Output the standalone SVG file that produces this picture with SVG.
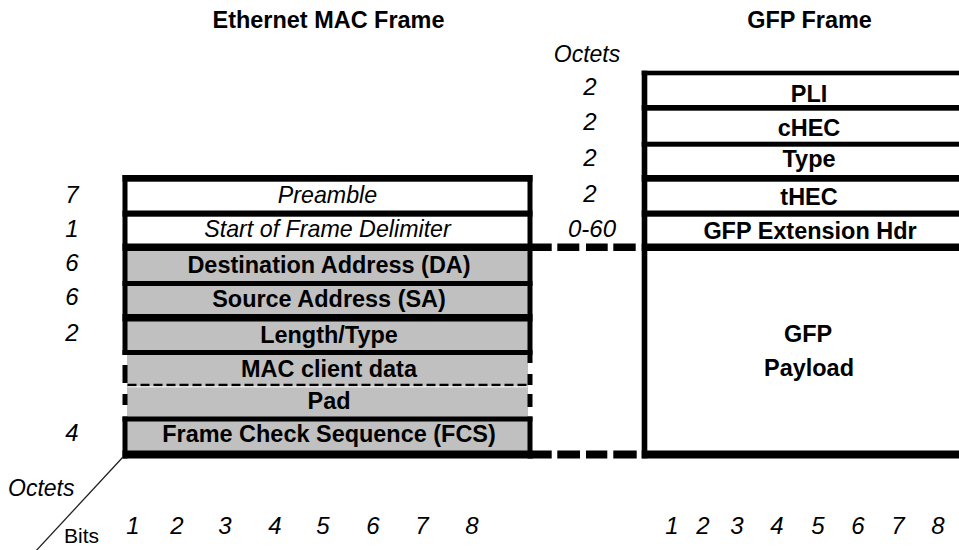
<svg xmlns="http://www.w3.org/2000/svg" width="959" height="550" viewBox="0 0 959 550">
<style>
text{font-family:"Liberation Sans",Arial,sans-serif;fill:#000}
.b{font-weight:bold;font-size:23px;text-anchor:middle}
.i{font-style:italic;font-size:23px;text-anchor:middle}
.n{font-style:italic;font-size:24px;text-anchor:middle}
.k{fill:#000}
.g{fill:#c0c0c0}
</style>
<rect width="959" height="550" fill="#fff"/>

<g id="titles">
<text class="b" transform="translate(328.5,27.5) scale(1.02,1)">Ethernet MAC Frame</text>
<text class="b" transform="translate(809.5,28) scale(1.02,1)">GFP Frame</text>
<text class="i" x="587" y="62">Octets</text>
</g>

<g id="ethernet-frame">
<rect class="g" x="127" y="250" width="401" height="201"/>
<rect class="k" x="122.5" y="175" width="410" height="6.7"/>
<rect class="k" x="122.5" y="210.5" width="410" height="6.2"/>
<rect class="k" x="122.5" y="243.5" width="410" height="7.5"/>
<rect class="k" x="122.5" y="281" width="410" height="5"/>
<rect class="k" x="122.5" y="314" width="410" height="7.5"/>
<rect class="k" x="122.5" y="350" width="410" height="5"/>
<rect class="k" x="122.5" y="416.5" width="410" height="5"/>
<rect class="k" x="122.5" y="450.5" width="410" height="8"/>
<rect class="k" x="122.5" y="175" width="5" height="180"/>
<rect class="k" x="122.5" y="365" width="5" height="18"/>
<rect class="k" x="122.5" y="394" width="5" height="11"/>
<rect class="k" x="122.5" y="416.5" width="5" height="42"/>
<rect class="k" x="527.5" y="175" width="5" height="188"/>
<rect class="k" x="527.5" y="374" width="5" height="11"/>
<rect class="k" x="527.5" y="394" width="5" height="13"/>
<rect class="k" x="527.5" y="416.5" width="5" height="42"/>
<line x1="127.5" y1="385" x2="527.5" y2="385" stroke="#000" stroke-width="2.5" stroke-dasharray="9 4"/>
<line x1="127.5" y1="386.8" x2="527.5" y2="386.8" stroke="#fff" stroke-width="1"/>
</g>

<g id="eth-preamble">
<text class="i" transform="translate(327.5,203) scale(1.01,1)">Preamble</text>
<text class="n" x="72" y="203">7</text>
</g>
<g id="eth-sfd">
<text class="i" transform="translate(327.5,237) scale(1.01,1)">Start of Frame Delimiter</text>
<text class="n" x="72" y="237">1</text>
</g>
<g id="eth-da">
<text class="b" transform="translate(329,273) scale(1.02,1)">Destination Address (DA)</text>
<text class="n" x="72" y="271">6</text>
</g>
<g id="eth-sa">
<text class="b" transform="translate(329,307) scale(1.02,1)">Source Address (SA)</text>
<text class="n" x="72" y="305">6</text>
</g>
<g id="eth-lt">
<text class="b" transform="translate(329,343) scale(1.02,1)">Length/Type</text>
<text class="n" x="72" y="341">2</text>
</g>
<g id="eth-mac">
<text class="b" transform="translate(329,377) scale(1.02,1)">MAC client data</text>
</g>
<g id="eth-pad">
<text class="b" transform="translate(329,409) scale(1.02,1)">Pad</text>
</g>
<g id="eth-fcs">
<text class="b" transform="translate(329,442) scale(1.02,1)">Frame Check Sequence (FCS)</text>
<text class="n" x="72" y="441">4</text>
</g>

<g id="gfp-frame">
<rect class="k" x="641.7" y="70.7" width="5.6" height="387.6"/>
<rect class="k" x="641.7" y="70.7" width="325" height="4.6"/>
<rect class="k" x="641.7" y="105" width="325" height="5.7"/>
<rect class="k" x="641.7" y="141.7" width="325" height="5"/>
<rect class="k" x="641.7" y="175" width="325" height="6.7"/>
<rect class="k" x="641.7" y="210.5" width="325" height="6.2"/>
<rect class="k" x="641.7" y="243.5" width="325" height="7.5"/>
<rect class="k" x="641.7" y="450.5" width="325" height="8"/>
</g>
<g id="gfp-pli">
<text class="b" transform="translate(809,102) scale(1.02,1)">PLI</text>
<text class="n" x="590" y="95">2</text>
</g>
<g id="gfp-chec">
<text class="b" transform="translate(809,136) scale(1.02,1)">cHEC</text>
<text class="n" x="590" y="130">2</text>
</g>
<g id="gfp-type">
<text class="b" transform="translate(809,167) scale(1.02,1)">Type</text>
<text class="n" x="590" y="166">2</text>
</g>
<g id="gfp-thec">
<text class="b" transform="translate(809,205) scale(1.02,1)">tHEC</text>
<text class="n" x="590" y="202">2</text>
</g>
<g id="gfp-ext">
<text class="b" transform="translate(810,239) scale(1.02,1)">GFP Extension Hdr</text>
<text class="n" x="592" y="237">0-60</text>
</g>
<g id="gfp-payload">
<text class="b" transform="translate(808,342) scale(1.02,1)">GFP</text>
<text class="b" transform="translate(809,376) scale(1.02,1)">Payload</text>
</g>

<g id="connectors">
<rect class="k" x="532" y="243.5" width="19.7" height="7.5"/>
<rect class="k" x="557.3" y="243.5" width="22" height="7.5"/>
<rect class="k" x="586" y="243.5" width="21.7" height="7.5"/>
<rect class="k" x="613.3" y="243.5" width="22.4" height="7.5"/>
<rect class="k" x="532" y="450.5" width="19.7" height="8"/>
<rect class="k" x="557.3" y="450.5" width="22.7" height="8"/>
<rect class="k" x="586" y="450.5" width="21.3" height="8"/>
<rect class="k" x="613.3" y="450.5" width="23.4" height="8"/>
<line x1="123" y1="457" x2="34" y2="553" stroke="#222" stroke-width="1.3"/>
</g>

<g id="axis-labels">
<text class="i" x="8" y="496" style="text-anchor:start" font-size="22">Octets</text>
<text x="64" y="543" font-size="21">Bits</text>
<text class="n" x="133" y="534">1</text>
<text class="n" x="177" y="534">2</text>
<text class="n" x="225" y="534">3</text>
<text class="n" x="275" y="534">4</text>
<text class="n" x="323" y="534">5</text>
<text class="n" x="373" y="534">6</text>
<text class="n" x="422" y="534">7</text>
<text class="n" x="472" y="534">8</text>
<text class="n" x="672" y="534">1</text>
<text class="n" x="703" y="534">2</text>
<text class="n" x="737" y="534">3</text>
<text class="n" x="777" y="534">4</text>
<text class="n" x="818" y="534">5</text>
<text class="n" x="858" y="534">6</text>
<text class="n" x="898" y="534">7</text>
<text class="n" x="938" y="534">8</text>
</g>
</svg>
